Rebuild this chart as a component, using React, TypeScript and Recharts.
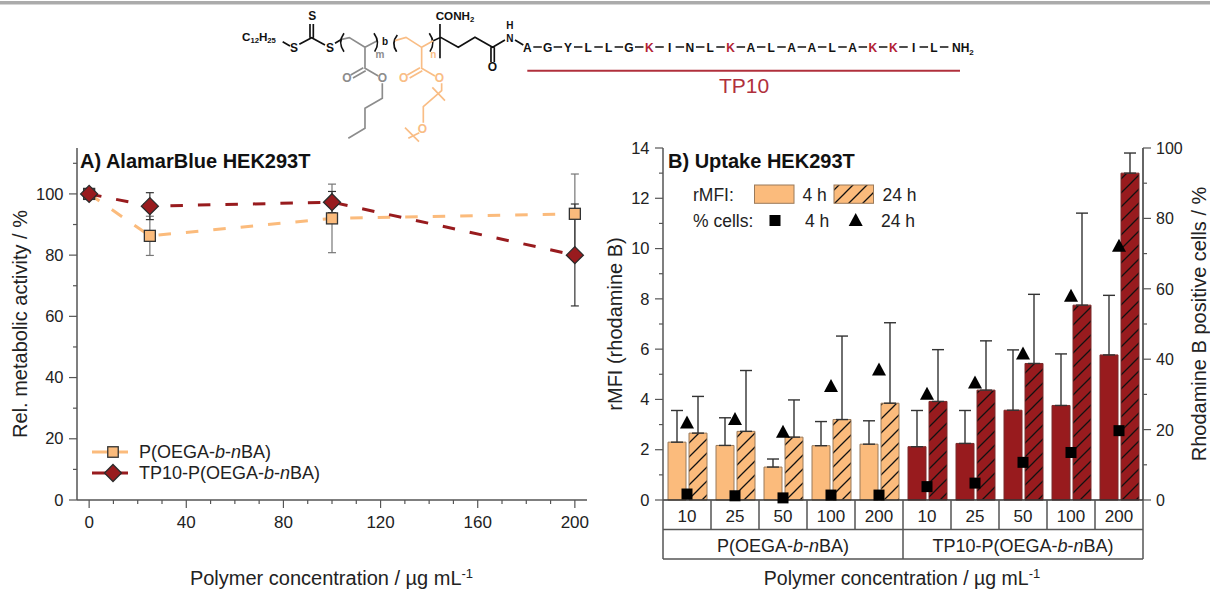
import {
  LineChart,
  ComposedChart,
  Line,
  Bar,
  Cell,
  XAxis,
  YAxis,
  ErrorBar,
  Legend,
} from "recharts";

const FONT = '"Liberation Sans", Arial, sans-serif';
const ORANGE = "#fbbb7c";
const RED = "#981b1e";
const AXIS = "#555";
const TEXT = "#222";

// panel A
const concentrations = [0, 25, 100, 200];
const pActivity = [100, 86.3, 92, 93.5];
const pActivityErr = [0, 6.4, 11.2, 13];
const tpActivity = [100, 96, 97.3, 80];
const tpActivityLow = [0, 4.4, 3.4, 16.6];
const tpActivityHigh = [0, 4.4, 3.5, 16.7];
const xTicksA = [0, 10, 20, 30, 40, 50, 60, 70, 80, 90, 100, 110, 120, 130, 140, 150, 160, 170, 180, 190, 200];
const yTicksA = [0, 10, 20, 30, 40, 50, 60, 70, 80, 90, 100, 110];

// panel B
const doses = ["10", "25", "50", "100", "200", "10", "25", "50", "100", "200"];
const rmfi4h = [2.3, 2.17, 1.31, 2.16, 2.22, 2.12, 2.25, 3.57, 3.76, 5.77];
const rmfi4hTop = [3.56, 3.27, 1.63, 3.12, 3.15, 3.56, 3.56, 5.97, 5.81, 8.14];
const rmfi24h = [2.66, 2.73, 2.5, 3.2, 3.85, 3.92, 4.37, 5.43, 7.75, 13.0];
const rmfi24hTop = [4.12, 5.15, 3.98, 6.52, 7.05, 5.98, 6.33, 8.18, 11.41, 13.8];
const cells4h = [1.7, 1.2, 0.6, 1.4, 1.4, 3.8, 4.8, 10.7, 13.5, 19.7];
const cells24h = [22, 23, 19.4, 32.4, 37.1, 30.2, 33.4, 41.6, 58, 72.2];
const yTicksB = [0, 1, 2, 3, 4, 5, 6, 7, 8, 9, 10, 11, 12, 13, 14];
const yTicksRight = [0, 10, 20, 30, 40, 50, 60, 70, 80, 90, 100];

// structure drawing on top
const peptide = ["A", "G", "Y", "L", "L", "G", "K", "I", "N", "L", "K", "A", "L", "A", "A", "L", "A", "K", "K", "I", "L"];

const tableA = concentrations.map((c, i) => ({
  c,
  p: pActivity[i],
  pErr: pActivityErr[i],
  tp: tpActivity[i],
  tpErr: [tpActivityLow[i], tpActivityHigh[i]],
}));

const tableB = doses.map((dose, i) => ({
  key: `${dose}-${i}`,
  dose,
  rmfi4: rmfi4h[i],
  err4: [0, rmfi4hTop[i] - rmfi4h[i]],
  rmfi24: rmfi24h[i],
  err24: [0, rmfi24hTop[i] - rmfi24h[i]],
  cells4: cells4h[i],
  cells24: cells24h[i],
}));

function SquareMark({ cx, cy, size = 11, fill = "#000", stroke = "none" }: any) {
  return <rect x={cx - size / 2} y={cy - size / 2} width={size} height={size} fill={fill} stroke={stroke} strokeWidth={1.3} />;
}

function DiamondMark({ cx, cy }: any) {
  const r = 8.5;
  return (
    <path
      d={`M${cx},${cy - r}L${cx + r},${cy}L${cx},${cy + r}L${cx - r},${cy}Z`}
      fill={RED}
      stroke="#2b2b2b"
      strokeWidth={1.3}
    />
  );
}

function TriangleMark({ cx, cy }: any) {
  return <path d={`M${cx},${cy - 7}L${cx + 7},${cy + 6}L${cx - 7},${cy + 6}Z`} fill="#000" />;
}

function BottomTickA({ x, y, payload }: any) {
  const major = payload.value % 40 === 0;
  return (
    <g>
      <line x1={x} y1={y - 8} x2={x} y2={y - 8 + (major ? 8 : 4)} stroke={AXIS} strokeWidth={1.2} />
      {major && (
        <text x={x} y={y + 19.7} textAnchor="middle" fontSize={17} fill={TEXT}>
          {payload.value}
        </text>
      )}
    </g>
  );
}

function LeftTick({ x, y, payload, every, max }: any) {
  const major = payload.value % every === 0 && payload.value <= max;
  return (
    <g>
      <line x1={x + 8} y1={y} x2={x + 8 - (major ? 8 : 4)} y2={y} stroke={AXIS} strokeWidth={1.2} />
      {major && (
        <text x={x - 5.5} y={y + 5.7} textAnchor="end" fontSize={16.5} fill={TEXT}>
          {payload.value}
        </text>
      )}
    </g>
  );
}

function RightTick({ x, y, payload }: any) {
  const major = payload.value % 20 === 0;
  return (
    <g>
      <line x1={x - 8} y1={y} x2={x - 8 + (major ? 8 : 4)} y2={y} stroke={AXIS} strokeWidth={1.2} />
      {major && (
        <text x={x + 5} y={y + 6} fontSize={16} fill={TEXT}>
          {payload.value}
        </text>
      )}
    </g>
  );
}

// two level category box under panel B
function DoseTick({ x, y, payload, index }: any) {
  const band = 48;
  const left = x - band / 2;
  const top = y - 8;
  const isEdge = index === 0 || index === 5;
  return (
    <g>
      <line x1={left} y1={top} x2={left} y2={top + (isEdge ? 59 : 29.5)} stroke={AXIS} strokeWidth={1.5} />
      <line x1={left} y1={top + 29.5} x2={left + band} y2={top + 29.5} stroke={AXIS} strokeWidth={1.5} />
      <line x1={left} y1={top + 59} x2={left + band} y2={top + 59} stroke={AXIS} strokeWidth={1.5} />
      {index === 9 && <line x1={left + band} y1={top} x2={left + band} y2={top + 59} stroke={AXIS} strokeWidth={1.5} />}
      <text x={x} y={top + 21.7} textAnchor="middle" fontSize={17} fill={TEXT}>
        {payload.value}
      </text>
      {index === 2 && (
        <text x={x} y={top + 51.7} textAnchor="middle" fontSize={18} fill={TEXT}>
          P(OEGA-<tspan fontStyle="italic">b</tspan>-<tspan fontStyle="italic">n</tspan>BA)
        </text>
      )}
      {index === 7 && (
        <text x={x} y={top + 51.7} textAnchor="middle" fontSize={18} fill={TEXT}>
          TP10-P(OEGA-<tspan fontStyle="italic">b</tspan>-<tspan fontStyle="italic">n</tspan>BA)
        </text>
      )}
    </g>
  );
}

function ConcentrationTitle({ tx, ty, size }: any) {
  return (
    <text x={tx} y={ty} textAnchor="middle" fontSize={size} fill={TEXT}>
      Polymer concentration / µg mL
      <tspan fontSize={13} dy={-7}>
        -1
      </tspan>
    </text>
  );
}

function RotatedTitle({ tx, ty, text }: any) {
  return (
    <text x={tx} y={ty} transform={`rotate(-90 ${tx} ${ty})`} textAnchor="middle" fontSize={20} fill={TEXT}>
      {text}
    </text>
  );
}

function LegendA() {
  const rows = [
    { y: 11, color: ORANGE },
    { y: 32, color: RED },
  ];
  return (
    <svg width={260} height={44} style={{ display: "block", fontFamily: FONT }}>
      {rows.map((r, i) => (
        <g key={i}>
          <line x1={0} y1={r.y} x2={36} y2={r.y} stroke={r.color} strokeWidth={3} />
          {i === 0 ? (
            <SquareMark cx={21} cy={r.y} size={10.5} fill={ORANGE} stroke="#333" />
          ) : (
            <DiamondMark cx={21} cy={r.y} />
          )}
        </g>
      ))}
      <text x={47} y={17} fontSize={18} fill={TEXT}>
        P(OEGA-<tspan fontStyle="italic">b</tspan>-<tspan fontStyle="italic">n</tspan>BA)
      </text>
      <text x={47} y={38} fontSize={18} fill={TEXT}>
        TP10-P(OEGA-<tspan fontStyle="italic">b</tspan>-<tspan fontStyle="italic">n</tspan>BA)
      </text>
    </svg>
  );
}

function LegendB() {
  return (
    <svg width={240} height={60} style={{ display: "block", fontFamily: FONT, overflow: "visible" }}>
      <text x={2} y={21.7} fontSize={17.5} fill={TEXT}>rMFI:</text>
      <rect x={63.5} y={6} width={39.5} height={18.3} fill={ORANGE} stroke="#9a7a5a" />
      <text x={111.5} y={21.7} fontSize={17.5} fill={TEXT}>4 h</text>
      <rect x={143} y={6} width={39.5} height={18.3} fill="url(#hatchOrange)" stroke="#9a7a5a" />
      <text x={191.5} y={21.7} fontSize={17.5} fill={TEXT}>24 h</text>
      <text x={2} y={48.3} fontSize={17.5} fill={TEXT}>% cells:</text>
      <SquareMark cx={84} cy={41.5} />
      <text x={114} y={48.3} fontSize={17.5} fill={TEXT}>4 h</text>
      <TriangleMark cx={164.7} cy={41} />
      <text x={190} y={48.3} fontSize={17.5} fill={TEXT}>24 h</text>
    </svg>
  );
}

function Structure() {
  const black = { stroke: "#111", strokeWidth: 5, fill: "none" };
  const gray = { stroke: "#8c8c8c", strokeWidth: 5, fill: "none" };
  const orange = { stroke: "#f9bd85", strokeWidth: 5, fill: "none" };
  const label = { fontSize: 36, fontWeight: 700, textAnchor: "middle" as const };
  return (
    <svg width={1210} height={145} style={{ position: "absolute", left: 0, top: 0, fontFamily: FONT }}>
      <rect x={0} y={1} width={1210} height={3.5} fill="#ababab" />
      <g transform="translate(220 0) scale(0.3333)">
        <text x={66} y={124} fontSize={35} fontWeight={700} fill="#111">
          C<tspan fontSize={23} dy={6}>12</tspan>
          <tspan dy={-6}>H</tspan>
          <tspan fontSize={23} dy={6}>25</tspan>
        </text>
        <path d="M188,125L210,138M238,133L275,113L315,135M270,113V72M280,113V72M345,130L365,118" {...black} />
        <text x={222} y={155} {...label} fill="#111">S</text>
        <text x={277} y={60} {...label} fill="#111">S</text>
        <text x={330} y={157} {...label} fill="#111">S</text>
        <path d="M365,118L388,113L435,142L472,122M435,142V205L475,228M430,203L392,225M437,212L399,234M487,250V295L435,325V385L385,415" {...gray} />
        <text x={381} y={245} {...label} fill="#8c8c8c">O</text>
        <text x={487} y={246} {...label} fill="#8c8c8c">O</text>
        <text x={480} y={174} fontSize={30} fontWeight={700} textAnchor="middle" fill="#8c8c8c">m</text>
        <path d="M372,100Q352,128 372,155M462,100Q482,128 464,155M532,105Q512,130 530,155M628,100Q648,128 630,155" {...black} />
        <text x={495} y={135} fontSize={30} fontWeight={700} textAnchor="middle" fill="#111">b</text>
        <path d="M525,122L558,112L605,142L640,122M605,142V205L645,228M600,203L562,225M607,212L569,234M665,250V272L610,320V368M598,398L565,415M637,262L675,302M555,383L597,425" {...orange} />
        <text x={551} y={245} {...label} fill="#f9bd85">O</text>
        <text x={658} y={246} {...label} fill="#f9bd85">O</text>
        <text x={607} y={398} {...label} fill="#f9bd85">O</text>
        <text x={640} y={174} fontSize={30} fontWeight={700} textAnchor="middle" fill="#f9bd85">n</text>
        <path d="M640,122L662,112L715,142L765,112L818,142L855,120M660,72V175M813,142V186M823,142V186M885,120L910,135" {...black} />
        <text x={647} y={60} fontSize={35} fontWeight={700} fill="#111">
          CONH<tspan fontSize={23} dy={6}>2</tspan>
        </text>
        <text x={817} y={214} {...label} fill="#111">O</text>
        <text x={870} y={86} fontSize={30} fontWeight={700} textAnchor="middle" fill="#111">H</text>
        <text x={870} y={125} fontSize={30} fontWeight={700} textAnchor="middle" fill="#111">N</text>
      </g>
      <g fontSize={12} fontWeight={700} textAnchor="middle">
        {peptide.map((aa, i) => {
          const x = 527.3 + i * 20.33;
          return (
            <g key={i}>
              <text x={x} y={52} fill={aa === "K" ? "#b22234" : "#111"}>{aa}</text>
              <line x1={x + 6} y1={47} x2={x + 14.5} y2={47} stroke="#111" strokeWidth={1.5} />
            </g>
          );
        })}
        <text x={952} y={52} textAnchor="start" fill="#111">
          NH<tspan fontSize={8} dy={3}>2</tspan>
        </text>
      </g>
      <line x1={527.3} y1={70.7} x2={960} y2={70.7} stroke="#b0303c" strokeWidth={2} />
      <text x={744} y={92.5} textAnchor="middle" fontSize={21} fill="#b0303c">TP10</text>
    </svg>
  );
}

export default function App() {
  return (
    <div style={{ position: "absolute", left: 0, top: 0, width: 1210, height: 589, fontFamily: FONT, background: "#fff", overflow: "hidden" }}>
      <div style={{ position: "absolute", left: 0, top: 0 }}>
        <LineChart width={600} height={589} data={tableA} margin={{ top: 148, right: 13, bottom: 59, left: 27 }} style={{ fontFamily: FONT }}>
          <XAxis
            dataKey="c"
            type="number"
            domain={[-5, 205]}
            ticks={xTicksA}
            interval={0}
            height={30}
            tick={<BottomTickA />}
            tickLine={false}
            axisLine={{ stroke: AXIS, strokeWidth: 1.5 }}
            label={<ConcentrationTitle tx={331.5} ty={585} size={20} />}
          />
          <XAxis xAxisId="top" orientation="top" height={0} tick={false} tickLine={false} axisLine={{ stroke: AXIS, strokeWidth: 1.5 }} />
          <YAxis
            domain={[0, 115]}
            ticks={yTicksA}
            interval={0}
            width={50}
            tick={<LeftTick every={20} max={100} />}
            tickLine={false}
            axisLine={{ stroke: AXIS, strokeWidth: 1.5 }}
            label={<RotatedTitle tx={27} ty={324} text="Rel. metabolic activity / %" />}
          />
          <YAxis yAxisId="frame" orientation="right" width={0} tick={false} tickLine={false} axisLine={{ stroke: AXIS, strokeWidth: 1.5 }} />
          <Line
            dataKey="p"
            name="P(OEGA-b-nBA)"
            stroke={ORANGE}
            strokeWidth={3}
            strokeDasharray="12.5 15"
            dot={(d: any) => <SquareMark key={d.index} cx={d.cx} cy={d.cy} fill={ORANGE} stroke="#333" />}
            isAnimationActive={false}
          >
            <ErrorBar dataKey="pErr" direction="y" width={4} stroke="#777" strokeWidth={1.2} />
          </Line>
          <Line
            dataKey="tp"
            name="TP10-P(OEGA-b-nBA)"
            stroke={RED}
            strokeWidth={3}
            strokeDasharray="12.5 15"
            dot={(d: any) => <DiamondMark key={d.index} cx={d.cx} cy={d.cy} />}
            isAnimationActive={false}
          >
            <ErrorBar dataKey="tpErr" direction="y" width={4} stroke="#333" strokeWidth={1.2} />
          </Line>
          <Legend
            layout="vertical"
            align="center"
            verticalAlign="middle"
            content={() => <LegendA />}
            wrapperStyle={{ left: 92, top: 441, width: 260 }}
          />
        </LineChart>
      </div>
      <div style={{ position: "absolute", left: 600, top: 0 }}>
        <ComposedChart
          width={610}
          height={589}
          data={tableB}
          barSize={18}
          barGap={3}
          margin={{ top: 148, right: 27, bottom: 29, left: 23 }}
          style={{ fontFamily: FONT }}
        >
          <defs>
            <pattern id="hatchOrange" width={14} height={14} patternUnits="userSpaceOnUse">
              <rect width={14} height={14} fill={ORANGE} />
              <path d="M-3,3L3,-3M0,14L14,0M11,17L17,11" stroke="#111" strokeWidth={1.3} />
            </pattern>
            <pattern id="hatchRed" width={14} height={14} patternUnits="userSpaceOnUse">
              <rect width={14} height={14} fill={RED} />
              <path d="M-3,3L3,-3M0,14L14,0M11,17L17,11" stroke="#111" strokeWidth={1.3} />
            </pattern>
          </defs>
          <XAxis
            dataKey="key"
            height={60}
            interval={0}
            tick={(p: any) => <DoseTick {...p} payload={{ ...p.payload, value: doses[p.index] }} />}
            tickLine={false}
            axisLine={{ stroke: "#333", strokeWidth: 1.5 }}
            label={<ConcentrationTitle tx={302} ty={585} size={19.5} />}
          />
          <XAxis xAxisId="top" orientation="top" height={0} tick={false} tickLine={false} axisLine={{ stroke: AXIS, strokeWidth: 1.5 }} />
          <YAxis
            yAxisId="left"
            domain={[0, 14]}
            ticks={yTicksB}
            interval={0}
            width={40}
            tick={<LeftTick every={2} max={14} />}
            tickLine={false}
            axisLine={{ stroke: AXIS, strokeWidth: 1.5 }}
            label={<RotatedTitle tx={22} ty={324} text="rMFI (rhodamine B)" />}
          />
          <YAxis
            yAxisId="right"
            orientation="right"
            domain={[0, 100]}
            ticks={yTicksRight}
            interval={0}
            width={40}
            tick={<RightTick />}
            tickLine={false}
            axisLine={{ stroke: "#333", strokeWidth: 1.5 }}
            label={<RotatedTitle tx={606} ty={324} text="Rhodamine B positive cells / %" />}
          />
          <Bar yAxisId="left" dataKey="rmfi4" isAnimationActive={false}>
            {tableB.map((d, i) => (
              <Cell key={d.key} fill={i < 5 ? ORANGE : RED} stroke={i < 5 ? "#9a7a5a" : "#7a2a2a"} />
            ))}
            <ErrorBar dataKey="err4" direction="y" width={6} stroke="#333" strokeWidth={1.4} />
          </Bar>
          <Bar yAxisId="left" dataKey="rmfi24" isAnimationActive={false}>
            {tableB.map((d, i) => (
              <Cell key={d.key} fill={i < 5 ? "url(#hatchOrange)" : "url(#hatchRed)"} stroke={i < 5 ? "#9a7a5a" : "#7a2a2a"} />
            ))}
            <ErrorBar dataKey="err24" direction="y" width={6} stroke="#333" strokeWidth={1.4} />
          </Bar>
          <Line
            yAxisId="right"
            dataKey="cells4"
            stroke="none"
            dot={(d: any) => <SquareMark key={d.index} cx={d.cx} cy={d.cy} />}
            legendType="none"
            isAnimationActive={false}
          />
          <Line
            yAxisId="right"
            dataKey="cells24"
            stroke="none"
            dot={(d: any) => <TriangleMark key={d.index} cx={d.cx} cy={d.cy} />}
            legendType="none"
            isAnimationActive={false}
          />
          <Legend
            layout="vertical"
            align="center"
            verticalAlign="middle"
            content={() => <LegendB />}
            wrapperStyle={{ left: 91, top: 179, width: 240 }}
          />
        </ComposedChart>
      </div>
      <Structure />
      <div style={{ position: "absolute", left: 80, top: 150, fontSize: 20, fontWeight: 700, color: "#111" }}>A) AlamarBlue HEK293T</div>
      <div style={{ position: "absolute", left: 668, top: 150, fontSize: 20, fontWeight: 700, color: "#111" }}>B) Uptake HEK293T</div>
    </div>
  );
}
